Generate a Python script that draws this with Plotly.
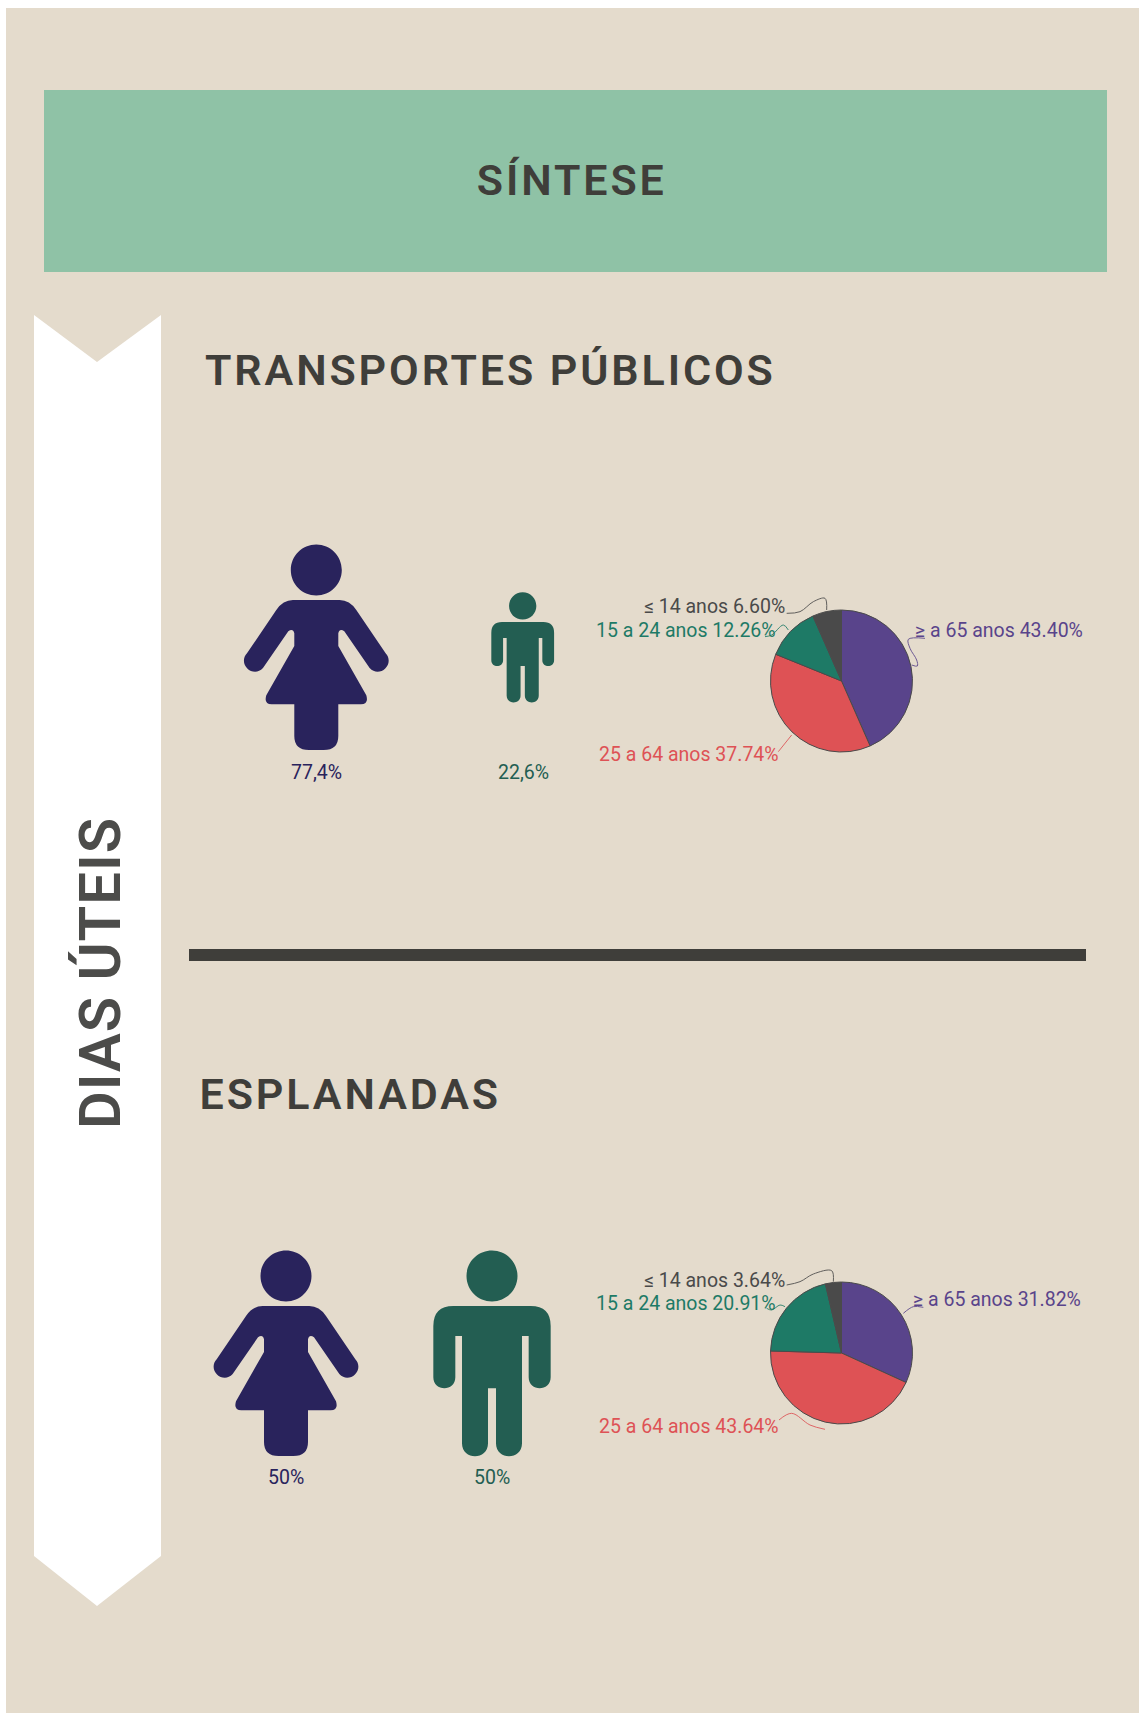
import plotly.graph_objects as go

W, H = 1139, 1713

# ---------- data ----------
age_labels = ["≥ a 65 anos", "25 a 64 anos", "15 a 24 anos", "≤ 14 anos"]
transportes_ages = [43.40, 37.74, 12.26, 6.60]
esplanadas_ages = [31.82, 43.64, 20.91, 3.64]
transportes_gender = ["77,4%", "22,6%"]
esplanadas_gender = ["50%", "50%"]
title_text = "SÍNTESE"
side_text = "DIAS ÚTEIS"
section_titles = ["TRANSPORTES PÚBLICOS", "ESPLANADAS"]

# ---------- style ----------
BG = "#E4DBCC"
BANNER = "#8FC2A6"
INK = "#3F3E3A"
SIDE_INK = "#4C4C4A"
WOMAN = "#29235C"
MAN = "#235E52"
PIE_COLORS = ["#59448B", "#DE5255", "#1E7A66", "#4A4A4A"]
FONT = "Roboto"


def fmt(pts, ox=0, oy=0, s=1 / 3):
    return [(ox + x * s, oy + y * s) for x, y in pts]


def circle(cx, cy, r):
    k = 0.5523 * r
    return (f"M {cx-r:.2f},{cy:.2f} "
            f"C {cx-r:.2f},{cy-k:.2f} {cx-k:.2f},{cy-r:.2f} {cx:.2f},{cy-r:.2f} "
            f"C {cx+k:.2f},{cy-r:.2f} {cx+r:.2f},{cy-k:.2f} {cx+r:.2f},{cy:.2f} "
            f"C {cx+r:.2f},{cy+k:.2f} {cx+k:.2f},{cy+r:.2f} {cx:.2f},{cy+r:.2f} "
            f"C {cx-k:.2f},{cy+r:.2f} {cx-r:.2f},{cy+k:.2f} {cx-r:.2f},{cy:.2f} Z")


def cap(p, a, b):
    """Clockwise round end from a to b, drawn as a cubic curve."""
    dx, dy = b[0] - a[0], b[1] - a[1]
    ox, oy = dy * 2 / 3, -dx * 2 / 3
    return f"C {p(a[0]+ox, a[1]+oy)} {p(b[0]+ox, b[1]+oy)} {p(*b)}"


def woman_path(cx, top):
    k = 1 / 3
    def p(x, y):
        return f"{cx + x*k:.2f},{top + (y-212)*k:.2f}"
    parts = [
        f"M {p(-70,212)}", f"L {p(70,212)}", f"Q {p(100,212)} {p(120,242)}",
        f"L {p(208,372)}", cap(p, (208, 372), (160, 416)),
        f"L {p(84,306)}", f"Q {p(70,296)} {p(66,312)}", f"L {p(66,350)}",
        f"L {p(150,498)}", f"Q {p(158,525)} {p(134,525)}", f"L {p(66,525)}",
        f"L {p(66,620)}", f"Q {p(66,662)} {p(22,662)}", f"L {p(-22,662)}",
        f"Q {p(-66,662)} {p(-66,620)}", f"L {p(-66,525)}", f"L {p(-134,525)}",
        f"Q {p(-158,525)} {p(-150,498)}", f"L {p(-66,350)}", f"L {p(-66,312)}",
        f"Q {p(-70,296)} {p(-84,306)}", f"L {p(-160,416)}",
        cap(p, (-160, 416), (-208, 372)), f"L {p(-120,242)}",
        f"Q {p(-100,212)} {p(-70,212)}", "Z",
    ]
    return " ".join(parts) + " " + circle(cx, top - 30, 25.5)


def man_path(cx, top, scale=1.0):
    k = scale / 3
    def p(x, y):
        return f"{cx + x*k:.2f},{top + (y-228)*k:.2f}"
    parts = [
        f"M {p(-116,228)}", f"L {p(116,228)}", f"Q {p(176,228)} {p(176,288)}",
        f"L {p(176,442)}", cap(p, (176, 442), (110, 442)),
        f"L {p(110,318)}", f"L {p(90,318)}", f"L {p(90,640)}",
        cap(p, (90, 640), (12, 640)), f"L {p(12,475)}",
        f"L {p(-12,475)}", f"L {p(-12,640)}",
        cap(p, (-12, 640), (-90, 640)), f"L {p(-90,318)}",
        f"L {p(-110,318)}", f"L {p(-110,442)}",
        cap(p, (-110, 442), (-176, 442)), f"L {p(-176,288)}",
        f"Q {p(-176,228)} {p(-116,228)}", "Z",
    ]
    return " ".join(parts) + " " + circle(cx, top - 30 * scale, 25.5 * scale)


fig = go.Figure()

shapes = [
    dict(type="rect", x0=6, x1=W, y0=8, y1=H, fillcolor=BG, line_width=0, layer="below"),
    dict(type="rect", x0=44, x1=1107, y0=90, y1=272, fillcolor=BANNER, line_width=0, layer="below"),
    dict(type="path", path="M 34,315 L 97,362 L 161,315 L 161,1556 L 97,1606 L 34,1556 Z",
         fillcolor="#FFFFFF", line_width=0, layer="below"),
    dict(type="rect", x0=189, x1=1086, y0=949, y1=961, fillcolor=INK, line_width=0, layer="below"),
    dict(type="path", path=woman_path(316.3, 600), fillcolor=WOMAN, line_width=0, layer="below"),
    dict(type="path", path=man_path(522.7, 622, 0.535), fillcolor=MAN, line_width=0, layer="below"),
    dict(type="path", path=woman_path(286, 1306), fillcolor=WOMAN, line_width=0, layer="below"),
    dict(type="path", path=man_path(492, 1306), fillcolor=MAN, line_width=0, layer="below"),
]


# ---------- pies ----------
def add_pie(values, cx, cy, r=71):
    fig.add_trace(go.Pie(
        values=values, labels=age_labels, sort=False, direction="clockwise", rotation=0,
        textinfo="none", hoverinfo="label+percent", showlegend=False,
        marker=dict(colors=PIE_COLORS, line=dict(color="#4A4A4A", width=1)),
        domain=dict(x=[(cx - r) / W, (cx + r) / W], y=[1 - (cy + r) / H, 1 - (cy - r) / H]),
    ))


add_pie(transportes_ages, 841.5, 681)
add_pie(esplanadas_ages, 841.5, 1353)

# ---------- leader lines (zoom units: origin + 3x) ----------
leaders = [
    (580, 580, [(620,100),(660,95),(700,65),(735,55),(740,90)], PIE_COLORS[3]),
    (580, 580, [(555,170),(575,165),(610,135),(625,150)], PIE_COLORS[2]),
    (580, 580, [(1035,175),(985,178),(990,205),(1010,240),(1012,258),(995,255)], PIE_COLORS[0]),
    (580, 580, [(635,465),(595,515)], PIE_COLORS[1]),
    (580, 1250, [(620,105),(660,95),(700,72),(755,62),(760,95)], PIE_COLORS[3]),
    (580, 1250, [(560,175),(575,180),(600,165),(615,170)], PIE_COLORS[2]),
    (580, 1250, [(1030,172),(1000,170),(970,190)], PIE_COLORS[0]),
    (580, 1250, [(597,510),(635,490),(690,525),(735,538)], PIE_COLORS[1]),
]
for ox, oy, pts, col in leaders:
    q = fmt(pts, ox, oy)
    fig.add_trace(go.Scatter(x=[a for a, _ in q], y=[b for _, b in q], mode="lines",
                             line=dict(color=col, width=1, shape="spline"),
                             hoverinfo="skip", showlegend=False, opacity=0.85))

# ---------- text ----------
ann = []


def text(t, x, y, size, color, anchor="center", weight=400, angle=0):
    ann.append(dict(text=t, x=x, y=y, xref="x", yref="y", xanchor=anchor, yanchor="middle",
                    showarrow=False, textangle=angle,
                    font=dict(family=FONT, size=size, color=color, weight=weight)))


text(title_text, 571.7, 180, 43, INK, weight=600)
text(section_titles[0], 490.3, 370, 43, INK, weight=600)
text(section_titles[1], 350, 1094, 43, INK, weight=600)
text(side_text, 100, 973, 58, SIDE_INK, weight=600, angle=-90)

text(transportes_gender[0], 316, 772, 19.5, WOMAN)
text(transportes_gender[1], 523, 772, 19.5, MAN)
text(esplanadas_gender[0], 286, 1477, 19.5, WOMAN)
text(esplanadas_gender[1], 492, 1477, 19.5, MAN)


def pie_labels(values, ys, xs):
    order = [3, 2, 0, 1]
    for i, y, x in zip(order, ys, xs):
        text(f"{age_labels[i]} {values[i]:.2f}%", x, y, 19.5, PIE_COLORS[i], "left")


pie_labels(transportes_ages, [606.5, 630, 630, 754], [642, 594, 913, 597])
pie_labels(esplanadas_ages, [1280, 1303.5, 1299, 1426], [642, 594, 911, 597])

fig.update_layout(
    width=W, height=H, margin=dict(l=0, r=0, t=0, b=0, pad=0, autoexpand=False),
    paper_bgcolor="#FFFFFF", plot_bgcolor="rgba(0,0,0,0)", showlegend=False,
    xaxis=dict(visible=False, range=[0, W], fixedrange=True),
    yaxis=dict(visible=False, range=[H, 0], fixedrange=True),
    shapes=shapes, annotations=ann,
)

post = """
document.documentElement.style.margin='0';
document.body.style.margin='0';
document.body.style.overflow='hidden';
var spacing={'SÍNTESE':'2.9px','TRANSPORTES PÚBLICOS':'2.9px','ESPLANADAS':'2.9px','DIAS ÚTEIS':'1px'};
document.querySelectorAll('.annotation-text').forEach(function(t){
  var s=spacing[t.textContent]; if(s){t.style.letterSpacing=s;}
});
"""
fig.write_html("out.html", post_script=post, config={"displayModeBar": False})
